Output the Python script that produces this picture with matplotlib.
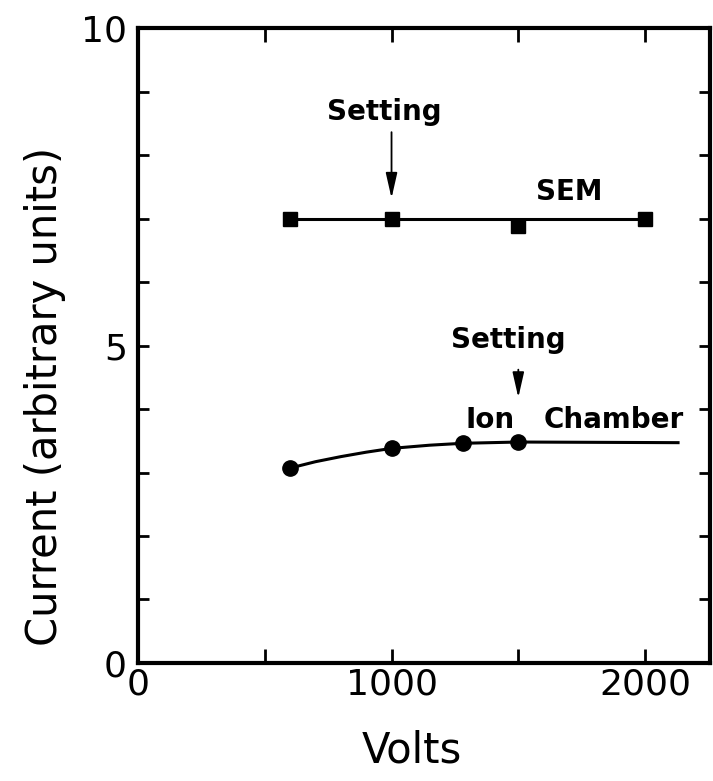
import matplotlib
matplotlib.use("Agg")
import matplotlib.pyplot as plt
from matplotlib.ticker import MultipleLocator, FixedLocator

# detector readings vs. applied voltage
sem_volts = [600, 1000, 1500, 2000]
sem_current = [7.0, 7.0, 6.88, 7.0]
sem_fit_volts = [600, 2000]
sem_fit_current = [7.0, 7.0]

ion_volts = [600, 1000, 1280, 1500]
ion_current = [3.07, 3.38, 3.46, 3.48]
ion_fit_volts = [600, 700, 800, 900, 1000, 1150, 1280, 1500, 2130]
ion_fit_current = [3.07, 3.17, 3.25, 3.32, 3.38, 3.43, 3.46, 3.48, 3.47]

# operating points marked with arrows
sem_setting = 1000
ion_setting = 1500

plt.rcParams['font.family'] = ['DejaVu Sans']

fig = plt.figure(figsize=(7.13, 7.81), dpi=100)
ax = fig.add_axes([0.1935, 0.1511, 0.8023, 0.813])

ax.plot(sem_fit_volts, sem_fit_current, color='black', lw=2.2)
ax.plot(sem_volts, sem_current, ls='none', marker='s', ms=9.5, color='black')
ax.plot(ion_fit_volts, ion_fit_current, color='black', lw=2.2)
ax.plot(ion_volts, ion_current, ls='none', marker='o', ms=11, color='black')

lab = dict(fontsize=20, fontweight='bold', ha='center', va='center')
arrow = dict(arrowstyle='-|>,head_length=1.1,head_width=0.25', color='black',
             lw=1.3, mutation_scale=14, shrinkA=0, shrinkB=0)
ax.text(970, 8.68, 'Setting', **lab)
ax.annotate('', xy=(sem_setting, 7.32), xytext=(sem_setting, 8.36),
            arrowprops=arrow)
ax.text(1700, 7.42, 'SEM', **lab)

ax.text(1460, 5.09, 'Setting', **lab)
ax.annotate('', xy=(ion_setting, 4.18), xytext=(ion_setting, 4.62),
            arrowprops=arrow)
ax.text(1389, 3.83, 'Ion', **lab)
ax.text(1878, 3.83, 'Chamber', **lab)

ax.set_xlim(0, 2256)
ax.set_ylim(0, 10)

ax.xaxis.set_major_locator(FixedLocator([0, 1000, 2000]))
ax.xaxis.set_minor_locator(FixedLocator([500, 1500]))
ax.yaxis.set_major_locator(MultipleLocator(5))
ax.yaxis.set_minor_locator(MultipleLocator(1))

ax.tick_params(axis='x', which='both', direction='in', top=True,
               length=10, width=2, labelsize=26, pad=3)
ax.tick_params(axis='y', which='both', direction='in', right=True,
               length=8, width=2, labelsize=26, pad=8)

for s in ax.spines.values():
    s.set_linewidth(3)

ax.set_xlabel('Volts', fontsize=30)
ax.xaxis.set_label_coords(0.479, -0.105)
ax.set_ylabel('Current (arbitrary units)', fontsize=30)
ax.yaxis.set_label_coords(-0.125, 0.42)

fig.savefig('out.png', dpi=100)
